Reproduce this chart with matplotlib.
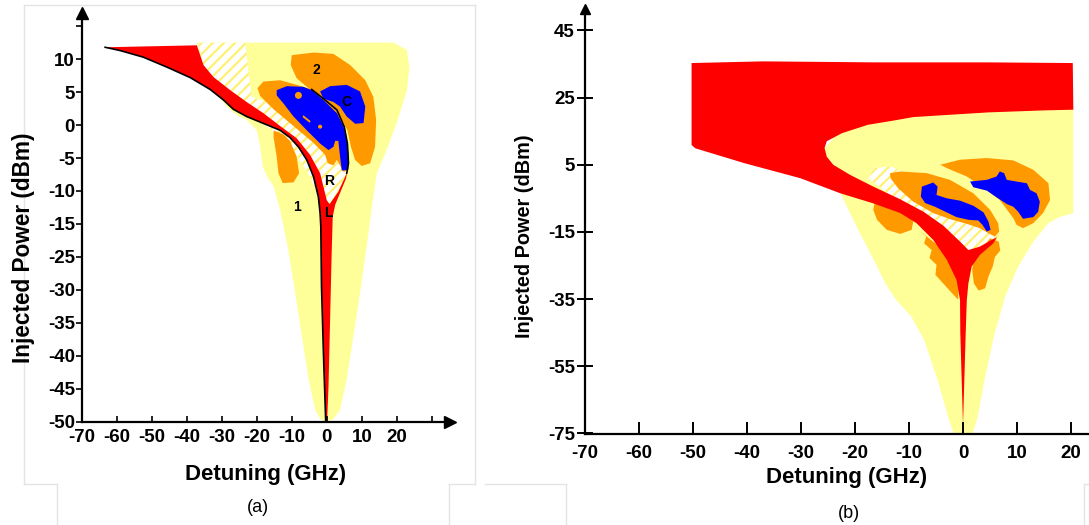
import numpy as np
import matplotlib
matplotlib.use("Agg")
import matplotlib.pyplot as plt
from matplotlib.lines import Line2D
from matplotlib.patches import Ellipse

plt.rcParams['font.family'] = ['Liberation Sans', 'DejaVu Sans']
plt.rcParams['hatch.linewidth'] = 1.6

YELLOW = '#FFFF99'
ORANGE = '#FF9900'
BLUE = '#0000FF'
RED = '#FF0000'
HATCH = '#FFF070'

# ---------------- panel (a) data: detuning (GHz), tick-position units ----------------
a_yticks = [15, 10, 5, 0, -5, -10, -15, -20, -25, -30, -35, -40, -45]
a_ylabels = ['', '10', '5', '0', '-5', '-10', '-15', '-25', '-30', '-35', '-40', '-45', '-50']
a_xticks = [-70, -60, -50, -40, -30, -20, -10, 0, 10, 20, 30]
a_xlabels = ['-70', '-60', '-50', '-40', '-30', '-20', '-10', '0', '10', '20', '']

yel_a_x = [-37.1, 19.0, 22.9, 23.6, 22.9, 20.0, 16.7, 14.3, 12.9, 11.4, 9.5, 7.6, 5.7, 3.8, 1.9, 0.0,
           -1.9, -3.3, -5.2, -7.1, -9.0, -11.0, -13.3, -15.2, -17.1, -18.3, -19.0, -20.0, -22.9, -25.7,
           -28.6, -34.3]
yel_a_y = [12.5, 12.5, 11.4, 8.8, 5.3, 0.3, -4.3, -7.3, -12.4, -18.4, -25.5, -32.1, -38.6, -43.2, -44.6, -45.0,
           -44.6, -43.2, -38.6, -32.1, -25.5, -18.9, -12.9, -9.3, -7.8, -6.3, -3.3, -0.8, 0.8, 1.5,
           2.8, 6.8]

hat_a_x = [-36.7, -23.3, -22.4, -21.4, -17.1, -9.5, -3.8, 1.9, 5.9, 4.3, 1.4, 0.0, -1.9, -4.8, -9.5, -17.1, -24.8, -31.4, -35.2]
hat_a_y = [12.5, 12.5, 8.3, 4.3, 3.5, 1.5, -1.5, -4.5, -6.6, -8.8, -11.4, -12.0, -11.4, -7.8, -3.8, -0.25, 2.3, 5.8, 8.8]

or2_a_x = [-10.0, -3.8, 1.9, 6.7, 11.0, 13.3, 14.1, 13.8, 12.4, 10.0, 8.1, 6.9, 5.9, 3.8, 0.95, -1.9, -4.8, -8.6, -10.3]
or2_a_y = [10.6, 11.0, 10.8, 9.1, 6.8, 4.3, 0.8, -3.3, -5.8, -6.2, -5.3, -3.3, -0.8, 1.3, 2.7, 4.2, 5.4, 7.1, 9.1]

or1_a_x = [-19.8, -18.1, -13.3, -8.6, -4.3, -0.95, 2.9, 5.0, 5.9, 6.2, 4.8, 2.9, 1.9, 0.3, -0.5, -3.8, -9.5, -15.2, -19.0]
or1_a_y = [5.6, 6.6, 6.8, 6.1, 5.4, 4.0, 2.3, -0.25, -2.8, -6.8, -7.1, -5.3, -6.1, -5.8, -4.5, -2.7, -0.15, 2.4, 4.4]

or3_a_x = [-15.2, -12.4, -10.5, -8.6, -7.9, -9.5, -12.6, -13.8, -14.3, -15.2]
or3_a_y = [-0.8, -1.4, -2.4, -4.8, -7.3, -8.7, -8.8, -7.3, -4.8, -1.8]

blue1_a_x = [-14.3, -11.4, -6.7, -4.3, -0.95, 2.9, 4.8, 5.7, 6.2, 6.1, 4.3, 3.8, 3.3, 2.4, 1.9, 0.5, -1.9, -5.7, -9.5, -12.4, -14.3]
blue1_a_y = [5.3, 5.9, 5.8, 5.3, 3.8, 1.8, -0.25, -2.3, -4.3, -6.8, -6.9, -4.8, -2.4, -2.4, -3.3, -3.8, -2.8, -0.8, 1.3, 3.3, 4.5]

blue2_a_x = [-1.9, 0.95, 5.7, 9.5, 11.0, 10.5, 8.1, 5.7, 3.8, 1.9, -0.95]
blue2_a_y = [5.1, 5.9, 6.1, 5.1, 2.8, 0.3, 0.2, 1.3, 2.8, 3.5, 4.0]

dash_a_x = [-6.7, -4.6, -4.9, -6.9]
dash_a_y = [1.5, 0.6, 0.35, 1.2]
dots_a = [(-8.1, 4.5, 2.0, 1.05), (-1.9, -0.25, 1.2, 0.6)]

red_a_x = [-63.3, -37.1, -35.2, -32.4, -27.6, -22.9, -18.1, -13.3, -8.6, -4.8, -1.9, 0.0, 0.8,
           3.3, 5.9, 5.5, 2.4, 1.7, 1.4, 0.95, 0.5, 0.1, -0.3, -0.95, -1.5, -1.7, -1.9, -2.4, -3.8, -5.7,
           -8.1, -10.5, -13.3, -18.1, -22.9, -26.7, -29.5, -33.3, -39.0, -45.7, -52.4, -59.0]
red_a_y = [11.8, 12.1, 9.1, 7.3, 5.3, 3.5, 1.8, -0.15, -2.0, -4.5, -7.3, -11.4, -12.0,
           -10.1, -7.1, -8.1, -12.1, -13.9, -19.4, -29.5, -39.6, -45.0, -45.0, -34.6, -24.5, -15.4, -13.4, -10.9, -7.8, -5.3,
           -3.3, -1.9, -0.8, 0.25, 1.3, 2.4, 3.8, 5.4, 7.2, 8.8, 10.3, 11.3]

edge1_a_x = [-63.3, -59.0, -52.4, -45.7, -39.0, -33.3, -29.5, -26.7, -22.9, -18.1, -13.3, -10.5, -8.1,
             -5.7, -3.8, -2.4, -1.9, -1.7, -1.5, -0.95, -0.3]
edge1_a_y = [11.8, 11.3, 10.3, 8.8, 7.2, 5.4, 3.8, 2.4, 1.3, 0.25, -0.8, -1.9, -3.3,
             -5.3, -7.8, -10.9, -13.4, -15.4, -24.5, -34.6, -45.0]
edge2_a_x = [-4.3, -0.95, 2.9, 5.0, 5.9, 6.2, 5.7]
edge2_a_y = [5.4, 4.0, 2.3, -0.25, -2.8, -5.8, -7.3]

labels_a = [('2', -3.0, 8.3), ('C', 5.5, 3.5), ('R', 0.8, -8.5), ('1', -8.6, -12.4), ('L', 0.3, -13.4)]

# ---------------- panel (b) data: detuning (GHz), injected power (dBm) ----------------
b_yticks = [45, 25, 5, -15, -35, -55, -75]
b_xticks = [-70, -60, -50, -40, -30, -20, -10, 0, 10, 20]

yel_b_x = [-25.9, -23.1, -16.2, -9.2, 4.7, 20.4, 20.4, 17.8, 15.8, 13.0, 10.2, 7.8, 5.7, 4.0, 2.6, 1.7,
           -1.7, -2.6, -4.7, -7.2, -9.6, -12.4, -14.4, -16.2, -19.7, -23.1]
yel_b_y = [9.4, 14.4, 17.9, 19.6, 21.0, 21.8, -9.4, -10.6, -12.4, -17.9, -25.3, -34.2, -46.2, -59.1, -71.0, -75.3,
           -75.3, -71.0, -59.1, -47.2, -40.2, -35.2, -30.3, -24.3, -13.4, -2.0]

hat_b_x = [-17.5, -16.5, -13.4, -9.2, -2.3, 4.7, 7.0, 1.0, -5.0, -12.0]
hat_b_y = [1.0, 4.0, 4.5, 1.5, -5.0, -11.4, -16.0, -21.0, -14.0, -6.0]

or1_b_x = [-13.5, -11.6, -6.7, -2.4, 1.9, 5.0, 6.5, 6.7, 5.9, 4.7, 3.1, 0.7, -2.4, -5.5, -9.2, -12.0, -13.4]
or1_b_y = [2.5, 3.0, 2.5, 0.5, -3.5, -8.4, -12.4, -14.9, -16.4, -15.4, -13.9, -12.6, -11.2, -9.4, -6.0, -2.0, 1.0]

or2_b_x = [-4.2, -0.55, 4.4, 9.3, 13.0, 15.8, 16.1, 14.8, 13.0, 11.1, 9.9, 9.3, 6.8, 4.4, 0.7, -3.0]
or2_b_y = [5.0, 6.5, 7.0, 6.3, 3.5, -0.5, -5.5, -9.4, -12.4, -13.9, -12.9, -10.9, -5.5, -2.5, 1.5, 4.0]

or3_b_x = [-16.3, -14.1, -11.0, -9.2, -9.5, -11.6, -14.1, -15.9, -16.6]
or3_b_y = [-6.0, -6.4, -9.0, -11.9, -14.4, -15.6, -14.4, -11.4, -8.4]

or4_b_x = [-8.2, -6.8, -7.2, -5.8, -6.2, -4.9, -5.1, -3.7, -2.3, -0.9, -0.8, -1.9, -3.7]
or4_b_y = [-14.4, -16.4, -18.4, -20.4, -22.8, -24.8, -27.8, -30.3, -32.8, -35.2, -30.3, -24.3, -20.3]

or5_b_x = [5.0, 6.6, 6.9, 5.9, 5.5, 4.7, 4.1, 2.9, 2.0, 1.7, 2.0, 3.6]
or5_b_y = [-16.9, -17.9, -20.5, -22.5, -25.3, -28.3, -31.8, -32.5, -30.3, -26.3, -22.8, -19.8]

blue1_b_x = [-7.6, -5.5, -4.7, -4.9, -3.0, -0.55, 1.9, 3.8, 4.7, 5.1, 4.4, 3.6, 2.8, 1.0, -1.2, -3.0, -5.2, -7.0, -7.8]
blue1_b_y = [-1.5, -0.3, -1.5, -4.0, -5.0, -5.7, -7.2, -9.2, -11.9, -14.4, -14.9, -12.9, -11.6, -11.4, -10.6, -9.2, -7.5, -6.4, -4.5]

blue2_b_x = [1.3, 4.4, 6.2, 6.8, 7.6, 8.1, 9.9, 11.8, 12.4, 13.6, 14.2, 13.9, 13.0, 11.1, 10.2, 9.3, 8.1, 6.2, 4.4, 1.9]
blue2_b_y = [0.0, 0.5, 1.5, 3.0, 2.5, 0.5, 0.0, -0.5, -2.5, -3.5, -6.0, -9.0, -10.6, -11.1, -9.0, -7.5, -6.7, -4.7, -2.7, -1.7]

red_b_x = [-50.2, -37.0, -16.2, 4.7, 20.3, 20.4, 15.1, 4.7, -2.3, -9.2, -12.7, -17.6, -22.4, -25.2, -25.6,
           -25.2, -24.0, -20.9, -16.6, -11.6, -7.3, -3.6, -0.55, 1.0, 3.1, 5.3, 6.3, 5.6, 3.1, 1.6, 1.0,
           0.7, 0.5, 0.3, 0.0, -0.3, -0.5, -0.55, -1.2, -3.0, -5.5, -8.6, -11.6, -16.6, -22.7, -30.1,
           -40.5, -49.5, -50.2]
red_b_y = [35.3, 35.8, 35.5, 35.5, 35.3, 21.4, 21.2, 20.6, 19.9, 19.2, 18.2, 16.9, 14.4, 12.0, 10.0,
           7.4, 5.0, 2.0, -1.5, -5.3, -9.0, -13.2, -17.9, -20.4, -19.4, -17.4, -16.6, -18.4, -21.9, -25.3, -30.3,
           -35.3, -45.0, -56.0, -72.5, -56.0, -45.0, -35.3, -29.3, -23.3, -17.4, -12.4, -9.4, -6.5, -3.5, 1.0,
           5.5, 9.9, 10.9]

fig = plt.figure(figsize=(10.89, 5.25), dpi=100)


def px_to_fig(x, y):
    return x / 1089.0, 1 - y / 525.0


# ---------------- panel (a) ----------------
l, b = px_to_fig(81.7, 421.7)
r, t = px_to_fig(450, 13)
axa = fig.add_axes([l, b, r - l, t - b])
axa.set_xlim(-70, 35.2)
axa.set_ylim(-45, 17.0)
axa.fill(yel_a_x, yel_a_y, color=YELLOW, lw=0)
axa.fill(hat_a_x, hat_a_y, facecolor='white', edgecolor=HATCH, hatch='///', lw=0)
axa.fill(or2_a_x, or2_a_y, color=ORANGE, lw=0)
axa.fill(or1_a_x, or1_a_y, color=ORANGE, lw=0)
axa.fill(or3_a_x, or3_a_y, color=ORANGE, lw=0)
axa.fill(blue1_a_x, blue1_a_y, color=BLUE, lw=0)
axa.fill(blue2_a_x, blue2_a_y, color=BLUE, lw=0)
axa.fill(dash_a_x, dash_a_y, color=ORANGE, lw=0)
for cx, cy, w, h in dots_a:
    axa.add_patch(Ellipse((cx, cy), w, h, color=ORANGE, lw=0))
axa.fill(red_a_x, red_a_y, color=RED, lw=0)
axa.plot(edge1_a_x, edge1_a_y, color='black', lw=1.2)
axa.plot(edge2_a_x, edge2_a_y, color='black', lw=1.2)
for txt, tx, ty in labels_a:
    axa.text(tx, ty, txt, ha='center', va='center', fontsize=10, fontweight='bold')

for s in ['top', 'right']:
    axa.spines[s].set_visible(False)
for s in ['left', 'bottom']:
    axa.spines[s].set_linewidth(1.6)
axa.plot(1, 0, marker='>', color='black', ms=8, transform=axa.transAxes, clip_on=False)
axa.plot(0, 1, marker='^', color='black', ms=8, transform=axa.transAxes, clip_on=False)
axa.set_xticks(a_xticks)
axa.set_xticklabels(a_xlabels, fontsize=13.5, fontweight='bold')
axa.set_yticks(a_yticks)
axa.set_yticklabels(a_ylabels, fontsize=13.5, fontweight='bold')
axa.tick_params(axis='x', direction='in', length=4, width=1.2, pad=5)
axa.tick_params(axis='y', direction='out', length=4, width=1.2, pad=1)
axa.set_xlabel('Detuning (GHz)', fontsize=16, fontweight='bold')
axa.xaxis.set_label_coords(0.5, -0.1035)
axa.set_ylabel('Injected Power (dBm)', fontsize=16.3, fontweight='bold')
axa.yaxis.set_label_coords(-0.128, 0.425)
axa.patch.set_alpha(0)

# ---------------- panel (b) ----------------
l, b = px_to_fig(584.5, 434.3)
r, t = px_to_fig(1089, 9)
axb = fig.add_axes([l, b, r - l, t - b])
axb.set_xlim(-70, 23.3)
axb.set_ylim(-75.3, 51.4)
axb.fill(yel_b_x, yel_b_y, color=YELLOW, lw=0)
axb.fill(hat_b_x, hat_b_y, facecolor='white', edgecolor=HATCH, hatch='///', lw=0)
axb.fill(or1_b_x, or1_b_y, color=ORANGE, lw=0)
axb.fill(or2_b_x, or2_b_y, color=ORANGE, lw=0)
axb.fill(or3_b_x, or3_b_y, color=ORANGE, lw=0)
axb.fill(or4_b_x, or4_b_y, color=ORANGE, lw=0)
axb.fill(or5_b_x, or5_b_y, color=ORANGE, lw=0)
axb.fill(blue1_b_x, blue1_b_y, color=BLUE, lw=0)
axb.fill(blue2_b_x, blue2_b_y, color=BLUE, lw=0)
axb.fill(red_b_x, red_b_y, color=RED, lw=0)

for s in ['top', 'right']:
    axb.spines[s].set_visible(False)
for s in ['left', 'bottom']:
    axb.spines[s].set_linewidth(1.6)
axb.plot(0, 1, marker='^', color='black', ms=7, transform=axb.transAxes, clip_on=False)
axb.set_xticks(b_xticks)
axb.set_xticklabels([str(v) for v in b_xticks], fontsize=13.5, fontweight='bold')
axb.set_yticks(b_yticks)
axb.set_yticklabels([str(v) for v in b_yticks], fontsize=13.5, fontweight='bold')
axb.tick_params(axis='x', direction='in', length=9, width=1.4, pad=8)
axb.tick_params(axis='y', direction='inout', length=12, width=1.4, pad=1)
axb.set_xlabel('Detuning (GHz)', fontsize=16, fontweight='bold')
axb.xaxis.set_label_coords(0.520, -0.0769)
axb.set_ylabel('Injected Power (dBm)', fontsize=14.3, fontweight='bold')
axb.yaxis.set_label_coords(-0.101, 0.466)
axb.patch.set_alpha(0)

fig.text(258 / 1089, 1 - 508 / 525, '(a)', ha='center', va='center', fontsize=13)
fig.text(849 / 1089, 1 - 513 / 525, '(b)', ha='center', va='center', fontsize=13)

# faint frame lines from the original figure crops
frame = [((24, 5), (475, 5)), ((24, 5), (24, 484)), ((24, 484), (57, 484)), ((57, 484), (57, 525)),
         ((475, 5), (475, 484)), ((449, 484), (475, 484)), ((449, 484), (449, 525)),
         ((485, 484), (566, 484)), ((566, 484), (566, 525)), ((1084, 484), (1089, 484)), ((1084, 484), (1084, 525))]
for (x0, y0), (x1, y1) in frame:
    p0 = px_to_fig(x0, y0)
    p1 = px_to_fig(x1, y1)
    fig.add_artist(Line2D([p0[0], p1[0]], [p0[1], p1[1]], color='#e4e4e4', lw=1, zorder=0))

fig.savefig('out.png', dpi=100)
